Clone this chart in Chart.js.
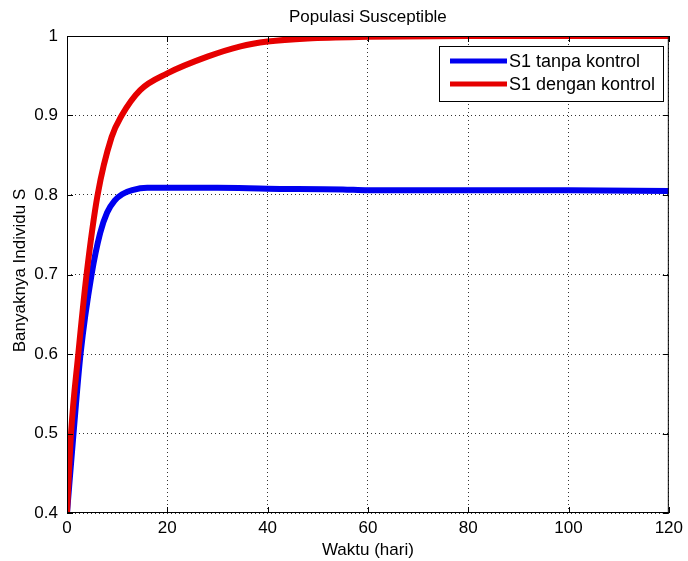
<!DOCTYPE html>
<html>
<head>
<meta charset="utf-8">
<script src="https://cdn.jsdelivr.net/npm/chart.js@4.4.1/dist/chart.umd.min.js"></script>
<style>
  html, body { margin: 0; padding: 0; background: #fff; }
  #wrap { width: 688px; height: 561px; }
</style>
</head>
<body>
<div id="wrap"><canvas id="popChart" width="688" height="561"></canvas></div>
<script>
// Time (days) and susceptible fraction, without control
const tBlue = [0, 1.3, 2.7, 4.9, 6.6, 8, 9.5, 11, 13, 16, 20, 30, 40, 55, 60, 80, 100, 120];
const sBlue = [0.4, 0.5, 0.6, 0.7, 0.752, 0.778, 0.793, 0.801, 0.806, 0.809, 0.809, 0.809, 0.808, 0.807, 0.806, 0.806, 0.806, 0.805];

// Time (days) and susceptible fraction, with control
const tRed = [0, 0.8, 2.25, 3.9, 6.1, 8.9, 10.9, 14.6, 20, 28, 34.6, 40, 48, 60, 80, 120];
const sRed = [0.4, 0.5, 0.6, 0.7, 0.8, 0.873, 0.9, 0.932, 0.953, 0.974, 0.987, 0.993, 0.997, 0.999, 1.0, 1.0];

const xTicks = [0, 20, 40, 60, 80, 100, 120];
const yTicks = [0.4, 0.5, 0.6, 0.7, 0.8, 0.9, 1];

const seriesNames = ['S1 tanpa kontrol', 'S1 dengan kontrol'];
const seriesColors = ['#0000f0', '#e60000'];

const FONT = '"Liberation Sans", Arial, sans-serif';

function toPoints(xs, ys) {
    return xs.map((x, i) => ({ x: x, y: ys[i] }));
}

// Box, inward ticks, titles and legend in MATLAB style
const matlabFrame = {
    id: 'matlabFrame',
    afterDraw(chart) {
        const ctx = chart.ctx;
        const a = chart.chartArea;
        const xs = chart.scales.x;
        const ys = chart.scales.y;
        ctx.save();

        // frame
        ctx.strokeStyle = '#000';
        ctx.lineWidth = 1;
        ctx.strokeRect(a.left + 0.5, a.top + 0.5, a.right - a.left - 1, a.bottom - a.top - 1);

        // inward tick marks on all four sides
        const tl = 6;
        ctx.beginPath();
        xTicks.forEach(v => {
            const px = Math.round(xs.getPixelForValue(v)) + 0.5;
            ctx.moveTo(px, a.bottom);
            ctx.lineTo(px, a.bottom - tl);
            ctx.moveTo(px, a.top);
            ctx.lineTo(px, a.top + tl);
        });
        yTicks.forEach(v => {
            const py = Math.round(ys.getPixelForValue(v)) + 0.5;
            ctx.moveTo(a.left, py);
            ctx.lineTo(a.left + tl, py);
            ctx.moveTo(a.right, py);
            ctx.lineTo(a.right - tl, py);
        });
        ctx.stroke();

        // titles
        ctx.fillStyle = '#000';
        ctx.font = '17px ' + FONT;
        ctx.textAlign = 'center';
        ctx.textBaseline = 'alphabetic';
        const cx = (a.left + a.right) / 2;
        ctx.fillText('Populasi Susceptible', cx, 22);
        ctx.fillText('Waktu (hari)', cx, 555);

        ctx.save();
        ctx.translate(25, (a.top + a.bottom) / 2 - 4);
        ctx.rotate(-Math.PI / 2);
        ctx.fillText('Banyaknya Individu S', 0, 0);
        ctx.restore();

        // legend
        const lx = 439, ly = 46, lw = 224, lh = 55;
        ctx.fillStyle = '#fff';
        ctx.fillRect(lx, ly, lw, lh);
        ctx.strokeStyle = '#000';
        ctx.lineWidth = 1;
        ctx.strokeRect(lx + 0.5, ly + 0.5, lw, lh);
        ctx.font = '18px ' + FONT;
        ctx.textAlign = 'left';
        ctx.textBaseline = 'middle';
        seriesNames.forEach((name, i) => {
            const rowY = ly + 15 + i * 23;
            ctx.strokeStyle = seriesColors[i];
            ctx.lineWidth = 5;
            ctx.beginPath();
            ctx.moveTo(450, rowY);
            ctx.lineTo(507, rowY);
            ctx.stroke();
            ctx.fillStyle = '#000';
            ctx.fillText(name, 509, rowY + 1);
        });

        ctx.restore();
    }
};

const ctx = document.getElementById('popChart').getContext('2d');
new Chart(ctx, {
    type: 'line',
    data: {
        datasets: [
            {
                label: seriesNames[0],
                data: toPoints(tBlue, sBlue),
                borderColor: seriesColors[0],
                borderWidth: 6,
                pointRadius: 0,
                cubicInterpolationMode: 'monotone',
                fill: false,
                order: 2
            },
            {
                label: seriesNames[1],
                data: toPoints(tRed, sRed),
                borderColor: seriesColors[1],
                borderWidth: 6,
                pointRadius: 0,
                cubicInterpolationMode: 'monotone',
                fill: false,
                order: 1
            }
        ]
    },
    options: {
        responsive: false,
        animation: false,
        layout: { padding: { top: 36, right: 18, left: 0, bottom: 0 } },
        plugins: {
            legend: { display: false },
            tooltip: { enabled: false }
        },
        scales: {
            x: {
                type: 'linear',
                min: 0,
                max: 120,
                afterFit: s => { s.height = 48; },
                afterBuildTicks: s => { s.ticks = xTicks.map(v => ({ value: v })); },
                grid: {
                    color: '#333',
                    drawTicks: false
                },
                border: { display: false, dash: [1, 3] },
                ticks: {
                    color: '#000',
                    padding: 5,
                    maxRotation: 0,
                    font: { family: FONT, size: 17 },
                    callback: v => String(v)
                }
            },
            y: {
                min: 0.4,
                max: 1,
                afterFit: s => { s.width = 67; },
                afterBuildTicks: s => { s.ticks = yTicks.map(v => ({ value: v })); },
                grid: {
                    color: '#333',
                    drawTicks: false
                },
                border: { display: false, dash: [1, 3] },
                ticks: {
                    color: '#000',
                    padding: 9,
                    font: { family: FONT, size: 17 },
                    callback: v => String(Math.round(v * 10) / 10)
                }
            }
        }
    },
    plugins: [matlabFrame]
});
</script>
</body>
</html>
